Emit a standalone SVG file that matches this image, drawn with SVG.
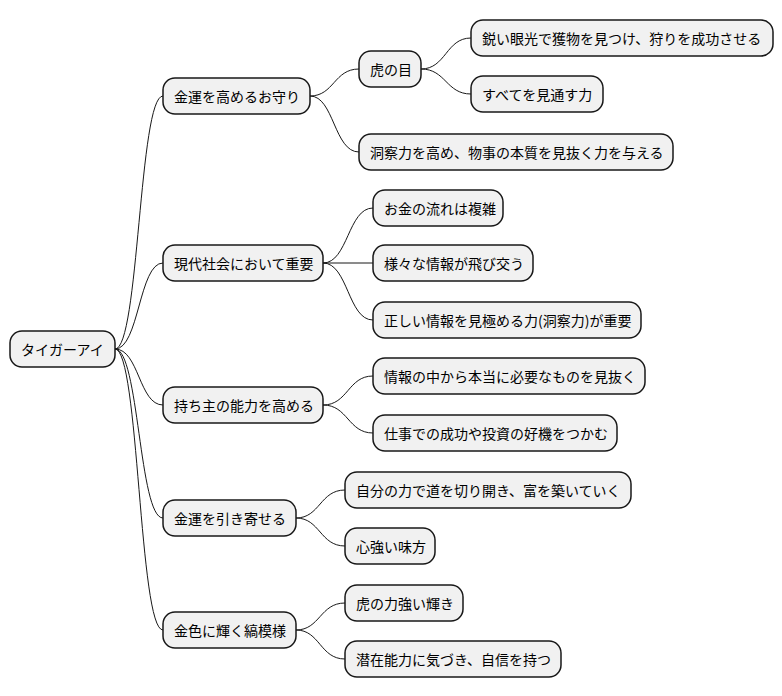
<svg xmlns="http://www.w3.org/2000/svg" width="782" height="696" viewBox="0 0 782 696">
<style>
.n rect{fill:#f1f1f1;stroke:#181818;stroke-width:1.5}
.n text{font-family:"Noto Sans CJK JP","Noto Sans",sans-serif;font-size:14px;fill:#000;dominant-baseline:central}
.c path{fill:none;stroke:#181818;stroke-width:1}
</style>
<rect width="782" height="696" fill="#fff"/>
<g class="c">
<path d="M115,349 C139,349 139,96 163,96"/>
<path d="M115,349 C139,349 139,263 163,263"/>
<path d="M115,349 C139,349 139,405 163,405"/>
<path d="M115,349 C139,349 139,518 163,518"/>
<path d="M115,349 C139,349 139,630 163,630"/>
<path d="M310,96 C334,96 334,69 359,69"/>
<path d="M310,96 C334,96 334,152 359,152"/>
<path d="M421,69 C446,69 446,38 471,38"/>
<path d="M421,69 C446,69 446,94 471,94"/>
<path d="M323,263 C348,263 348,208 373,208"/>
<path d="M323,263 L373,263"/>
<path d="M323,263 C348,263 348,320 373,320"/>
<path d="M323,405 C348,405 348,376 373,376"/>
<path d="M323,405 C348,405 348,433 373,433"/>
<path d="M296,518 C320,518 320,490 345,490"/>
<path d="M296,518 C320,518 320,546 345,546"/>
<path d="M296,630 C320,630 320,603 345,603"/>
<path d="M296,630 C320,630 320,659 345,659"/>
</g>
<g id="root" class="n"><rect x="10" y="331" width="105" height="36" rx="12"/><text x="21" y="349">タイガーアイ</text></g>
<g id="a" class="n"><rect x="163" y="78" width="147" height="36" rx="12"/><text x="174" y="96">金運を高めるお守り</text></g>
<g id="b" class="n"><rect x="163" y="245" width="160" height="36" rx="12"/><text x="174" y="263">現代社会において重要</text></g>
<g id="c" class="n"><rect x="163" y="387" width="160" height="36" rx="12"/><text x="174" y="405">持ち主の能力を高める</text></g>
<g id="d" class="n"><rect x="163" y="500" width="133" height="36" rx="12"/><text x="174" y="518">金運を引き寄せる</text></g>
<g id="e" class="n"><rect x="163" y="612" width="133" height="36" rx="12"/><text x="174" y="630">金色に輝く縞模様</text></g>
<g id="a1" class="n"><rect x="359" y="51" width="62" height="36" rx="12"/><text x="370" y="69">虎の目</text></g>
<g id="a2" class="n"><rect x="359" y="134" width="314" height="36" rx="12"/><text x="370" y="152">洞察力を高め、物事の本質を見抜く力を与える</text></g>
<g id="a1a" class="n"><rect x="471" y="20" width="302" height="36" rx="12"/><text x="482" y="38">鋭い眼光で獲物を見つけ、狩りを成功させる</text></g>
<g id="a1b" class="n"><rect x="471" y="76" width="132" height="36" rx="12"/><text x="482" y="94">すべてを見通す力</text></g>
<g id="b1" class="n"><rect x="373" y="190" width="130" height="36" rx="12"/><text x="384" y="208">お金の流れは複雑</text></g>
<g id="b2" class="n"><rect x="373" y="245" width="160" height="36" rx="12"/><text x="384" y="263">様々な情報が飛び交う</text></g>
<g id="b3" class="n"><rect x="373" y="302" width="268" height="36" rx="12"/><text x="384" y="320">正しい情報を見極める力(洞察力)が重要</text></g>
<g id="c1" class="n"><rect x="373" y="358" width="272" height="36" rx="12"/><text x="384" y="376">情報の中から本当に必要なものを見抜く</text></g>
<g id="c2" class="n"><rect x="373" y="415" width="244" height="36" rx="12"/><text x="384" y="433">仕事での成功や投資の好機をつかむ</text></g>
<g id="d1" class="n"><rect x="345" y="472" width="286" height="36" rx="12"/><text x="356" y="490">自分の力で道を切り開き、富を築いていく</text></g>
<g id="d2" class="n"><rect x="345" y="528" width="90" height="36" rx="12"/><text x="356" y="546">心強い味方</text></g>
<g id="e1" class="n"><rect x="345" y="585" width="118" height="36" rx="12"/><text x="356" y="603">虎の力強い輝き</text></g>
<g id="e2" class="n"><rect x="345" y="641" width="216" height="36" rx="12"/><text x="356" y="659">潜在能力に気づき、自信を持つ</text></g>
</svg>
